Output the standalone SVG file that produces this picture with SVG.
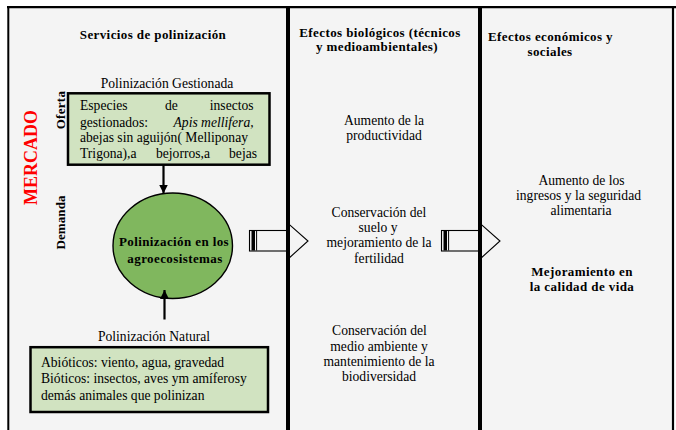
<svg xmlns="http://www.w3.org/2000/svg" xmlns:xlink="http://www.w3.org/1999/xlink" width="676" height="430" viewBox="0 0 676 430">
<style>
  text { font-family: 'Liberation Serif', 'DejaVu Serif', serif; fill: #000; }
  .r { font-size: 13.6px; }
  .b { font-size: 13px; font-weight: bold; letter-spacing: 0.4px; }
  .c { text-anchor: middle; }
  .e { text-anchor: end; }
  .box { fill: #d1e3c1; stroke: #000; stroke-width: 2.5; }
  .frame { stroke: #000; fill: none; }
  .blk { fill: none; stroke: #000; stroke-width: 1.1; }
  .vline { stroke: #000; stroke-width: 2.2; fill: none; }
</style>
<defs>
  <marker id="ah" markerUnits="userSpaceOnUse" markerWidth="9" markerHeight="9" viewBox="0 0 9 9" refX="9" refY="4.5" orient="auto">
    <path d="M0,0 L9,4.5 L0,9 Z" fill="#000"/>
  </marker>
  <g id="blockArrow">
    <rect x="249.5" y="230.5" width="38" height="20.5" class="blk"/>
    <rect x="251.5" y="231" width="3.5" height="19.5" fill="#000"/>
    <line x1="256.6" y1="231" x2="256.6" y2="250.5" stroke="#000" stroke-width="1"/>
    <polyline points="288,223.3 308,241 288,259" class="blk" stroke-width="1.3"/>
  </g>
</defs>

<rect x="8" y="7" width="665" height="423" fill="#f4f4f4"/>

<g id="frame">
  <line x1="7" y1="7.2" x2="676" y2="7.2" class="frame" stroke-width="2.3"/>
  <line x1="8.3" y1="6" x2="8.3" y2="430" class="frame" stroke-width="2"/>
  <line x1="673" y1="6" x2="673" y2="430" class="frame" stroke-width="2.2"/>
  <rect x="286" y="6" width="4" height="424" fill="#000"/>
  <rect x="478" y="6" width="4" height="424" fill="#000"/>
</g>

<g id="col1-title">
  <text x="153" y="39" class="b c">Servicios de polinización</text>
</g>

<g id="mercado">
  <text transform="translate(36.5,157.5) rotate(-90)" class="c" style="font-size:18px;font-weight:bold;fill:#ff0000;">MERCADO</text>
</g>
<g id="oferta">
  <text transform="translate(64.5,110) rotate(-90)" class="b c" style="letter-spacing:0.3px">Oferta</text>
</g>
<g id="demanda">
  <text transform="translate(64.5,222.5) rotate(-90)" class="b c" style="letter-spacing:0.1px">Demanda</text>
</g>

<g id="gestionada">
  <text x="167" y="88" class="r c">Polinización Gestionada</text>
  <rect x="68" y="93.3" width="201.5" height="71.4" class="box"/>
  <text class="r">
    <tspan x="80" y="110">Especies</tspan><tspan x="165" y="110">de</tspan><tspan x="257" y="110" class="e">insectos</tspan>
    <tspan x="80" y="126.5">gestionados:</tspan><tspan x="257" y="126.5" class="e" font-style="italic">Apis mellifera,</tspan>
    <tspan x="80" y="142">abejas sin aguijón( Melliponay</tspan>
    <tspan x="80" y="158">Trigona),a</tspan><tspan x="156" y="158">bejorros,a</tspan><tspan x="257" y="158" class="e">bejas</tspan>
  </text>
</g>

<g id="agroecosistemas">
  <ellipse cx="172.75" cy="245.75" rx="59.75" ry="52.75" fill="#80b75e" stroke="#000" stroke-width="1.4"/>
  <text x="174" y="246" class="b c">Polinización en los</text>
  <text x="175" y="262.5" class="b c">agroecosistemas</text>
</g>

<g id="natural">
  <text x="154" y="340.5" class="r c">Polinización Natural</text>
  <rect x="30.5" y="347.2" width="237.5" height="64.8" class="box"/>
  <text class="r">
    <tspan x="41" y="366.5">Abióticos: viento, agua, gravedad</tspan>
    <tspan x="41" y="383">Bióticos: insectos, aves ym amíferosy</tspan>
    <tspan x="41" y="399.5">demás animales que polinizan</tspan>
  </text>
</g>

<g id="col2-title">
  <text x="380" y="36.7" class="b c">Efectos biológicos (técnicos</text>
  <text x="377" y="51" class="b c">y medioambientales)</text>
</g>
<g id="productividad">
  <text x="384" y="125" class="r c">Aumento de la</text>
  <text x="384" y="140" class="r c">productividad</text>
</g>
<g id="suelo">
  <text x="379" y="217" class="r c">Conservación del</text>
  <text x="378" y="232" class="r c">suelo  y</text>
  <text x="379" y="247" class="r c">mejoramiento de la</text>
  <text x="379" y="263" class="r c">fertilidad</text>
</g>
<g id="biodiversidad">
  <text x="379.5" y="335" class="r c">Conservación del</text>
  <text x="379" y="350.5" class="r c">medio ambiente y</text>
  <text x="379" y="366" class="r c">mantenimiento de la</text>
  <text x="379" y="380.5" class="r c">biodiversidad</text>
</g>

<g id="col3-title">
  <text x="488" y="41" class="b">Efectos económicos y</text>
  <text x="550" y="56" class="b c">sociales</text>
</g>
<g id="ingresos">
  <text x="581.5" y="185" class="r c">Aumento de los</text>
  <text x="578.5" y="200" class="r c">ingresos y la seguridad</text>
  <text x="581" y="215" class="r c">alimentaria</text>
</g>
<g id="calidad">
  <text x="582" y="276" class="b c">Mejoramiento en</text>
  <text x="582" y="290.5" class="b c">la calidad de vida</text>
</g>

<g id="connectors">
  <use xlink:href="#blockArrow"/>
  <use xlink:href="#blockArrow" transform="translate(192,0)"/>
  <line x1="163.5" y1="165" x2="163.5" y2="193.5" class="vline" marker-end="url(#ah)"/>
  <line x1="164.5" y1="319.5" x2="164.5" y2="290" class="vline" marker-end="url(#ah)"/>
</g>
</svg>
